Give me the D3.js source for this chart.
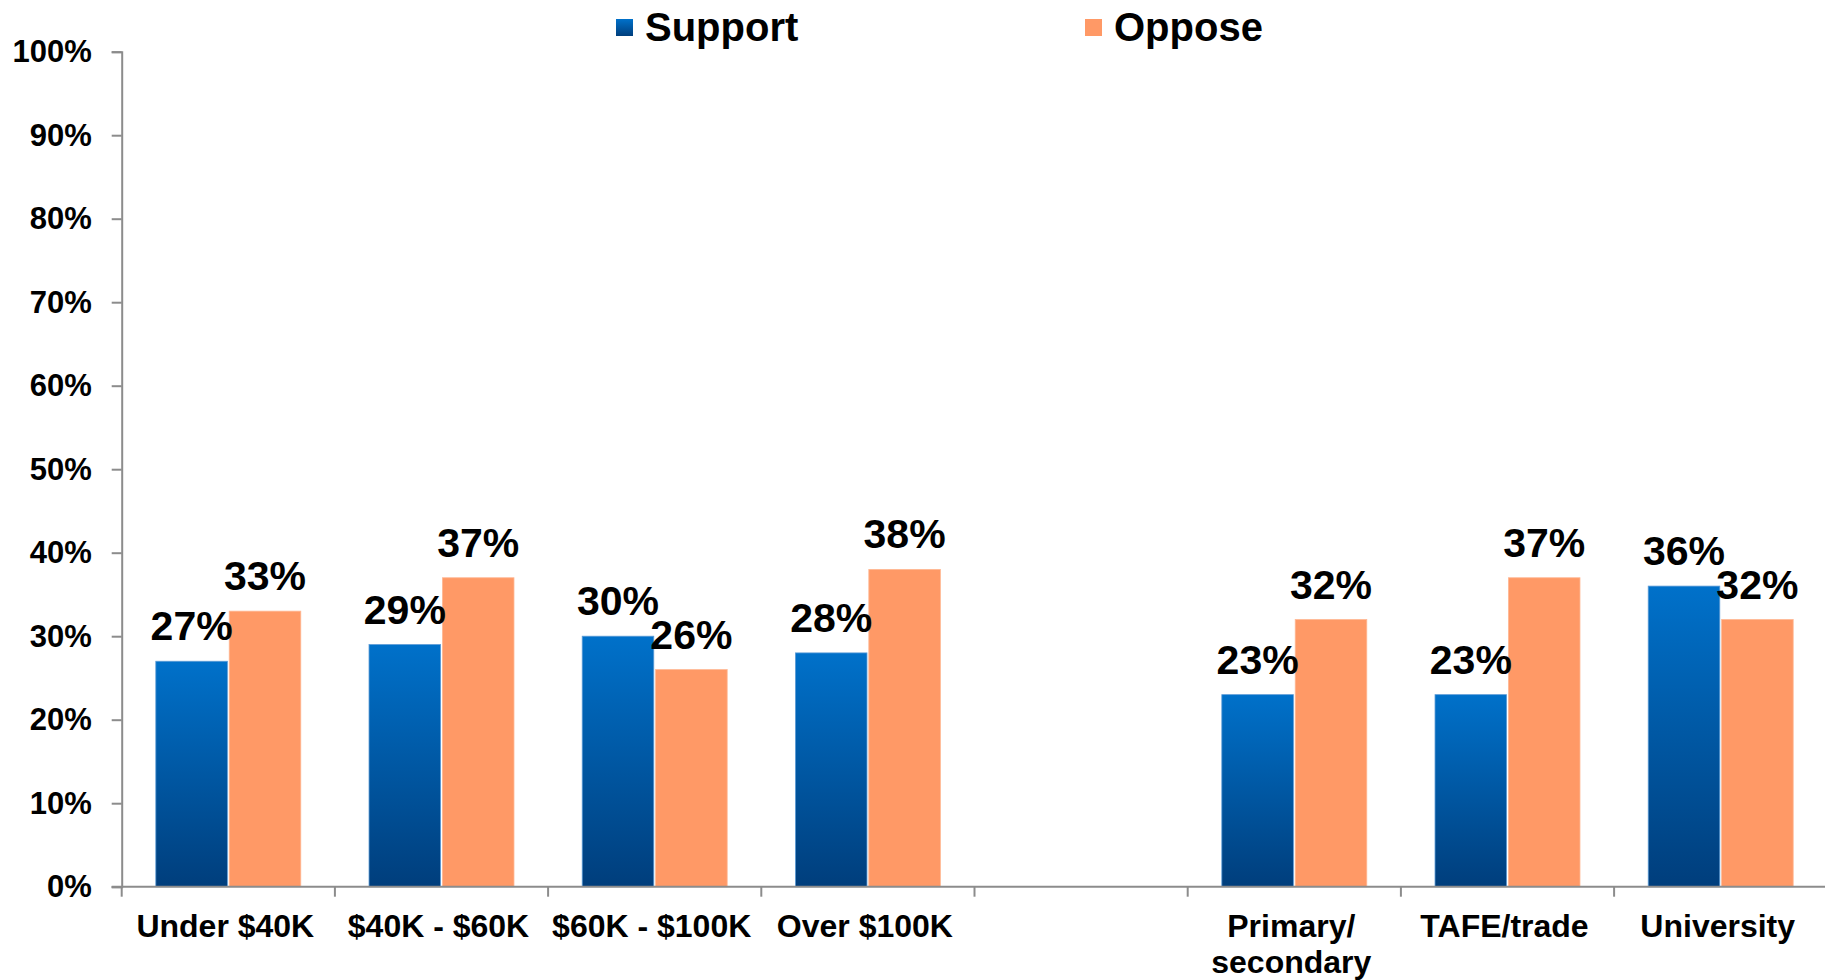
<!DOCTYPE html>
<html>
<head>
<meta charset="utf-8">
<script src="https://cdn.jsdelivr.net/npm/d3@7"></script>
<style>
  html, body { margin: 0; padding: 0; background: #ffffff; overflow: hidden; }
  svg { display: block; font-family: Arial, "Liberation Sans", Helvetica, sans-serif; font-weight: bold; }
</style>
</head>
<body>
<svg id="chart" width="1825" height="980"></svg>
<script>
// Categories along the x axis; the empty slot separates income from education groups
const categories = ["Under $40K", "$40K - $60K", "$60K - $100K", "Over $100K", "", "Primary/\nsecondary", "TAFE/trade", "University"];
const seriesNames = ["Support", "Oppose"];
const supportValues = [0.27, 0.29, 0.30, 0.28, null, 0.23, 0.23, 0.36];
const opposeValues  = [0.33, 0.37, 0.26, 0.38, null, 0.32, 0.37, 0.32];
const yTicks = [0, 0.1, 0.2, 0.3, 0.4, 0.5, 0.6, 0.7, 0.8, 0.9, 1.0];

const svg = d3.select("#chart");
const plot = { left: 121.7, right: 121.7 + 8 * 213.2, top: 51.7, bottom: 886.7 };
const axisColor = "#8c8c8c";

// Gradient for the support bars (lighter at top, darker at base)
const defs = svg.append("defs");
const grad = defs.append("linearGradient")
  .attr("id", "supportGrad").attr("x1", 0).attr("y1", 0).attr("x2", 0).attr("y2", 1);
grad.append("stop").attr("offset", "0%").attr("stop-color", "#0071CA");
grad.append("stop").attr("offset", "100%").attr("stop-color", "#003E7C");

const keys = categories.map((c, i) => "c" + i);
const x0 = d3.scaleBand().domain(keys).range([plot.left, plot.right]).paddingInner(0).paddingOuter(0);
const groupW = x0.bandwidth() * 0.68;
const x1 = d3.scaleBand().domain(seriesNames).range([0, groupW]).paddingInner(0.025);
const y = d3.scaleLinear().domain([0, 1]).range([plot.bottom, plot.top]);

const fills = { Support: "url(#supportGrad)", Oppose: "#FF9966" };

const rows = categories.map((c, i) => ({
  key: keys[i],
  label: c,
  values: [
    { series: "Support", v: supportValues[i] },
    { series: "Oppose", v: opposeValues[i] }
  ].filter(d => d.v !== null)
}));

// Y axis
const yAxis = d3.axisLeft(y)
  .tickValues(yTicks)
  .tickFormat(d3.format(".0%"))
  .tickSize(10)
  .tickPadding(20);
const gy = svg.append("g").attr("transform", `translate(${plot.left},0)`).call(yAxis);
gy.select(".domain").attr("stroke", axisColor).attr("stroke-width", 2);
gy.selectAll(".tick line").attr("stroke", axisColor).attr("stroke-width", 2);
gy.selectAll(".tick text")
  .attr("fill", "#000").style("font-size", "31px").style("font-weight", "bold")
  .style("font-family", "Arial, 'Liberation Sans', sans-serif");

// Bars
const groups = svg.append("g").selectAll("g.group")
  .data(rows).join("g")
  .attr("class", "group")
  .attr("transform", d => `translate(${x0(d.key) + (x0.bandwidth() - groupW) / 2},0)`);

groups.selectAll("rect")
  .data(d => d.values).join("rect")
  .attr("x", d => x1(d.series))
  .attr("width", x1.bandwidth())
  .attr("y", d => y(d.v))
  .attr("height", d => y(0) - y(d.v))
  .attr("fill", d => fills[d.series])
  .attr("stroke", d => d.series === "Support" ? "#5c9bd6" : "#ffb894")
  .attr("stroke-width", 0.8);

// Value labels
groups.selectAll("text.val")
  .data(d => d.values).join("text")
  .attr("class", "val")
  .attr("x", d => x1(d.series) + x1.bandwidth() / 2)
  .attr("y", d => y(d.v) - 21)
  .attr("text-anchor", "middle")
  .style("font-size", "41px")
  .attr("fill", "#000")
  .text(d => d3.format(".0%")(d.v));

// X axis line and category boundary ticks
const gx = svg.append("g");
gx.append("line")
  .attr("x1", plot.left - 10).attr("x2", plot.right)
  .attr("y1", y(0)).attr("y2", y(0))
  .attr("stroke", axisColor).attr("stroke-width", 2);
const bounds = keys.map(k => x0(k)).concat([x0.range()[1]]);
gx.selectAll("line.tick")
  .data(bounds).join("line")
  .attr("class", "tick")
  .attr("x1", d => d).attr("x2", d => d)
  .attr("y1", y(0)).attr("y2", y(0) + 10)
  .attr("stroke", axisColor).attr("stroke-width", 2);

// Category labels (multi-line where needed)
const catText = gx.selectAll("text.cat")
  .data(rows).join("text")
  .attr("class", "cat")
  .attr("y", y(0) + 50.6)
  .attr("text-anchor", "middle")
  .style("font-size", "32px")
  .attr("fill", "#000");
catText.each(function(d) {
  const lines = d.label.split("\n");
  const t = d3.select(this);
  lines.forEach((ln, i) => {
    t.append("tspan")
      .attr("x", x0(d.key) + x0.bandwidth() / 2 - 3)
      .attr("dy", i === 0 ? 0 : 36)
      .text(ln);
  });
});

// Legend
const legendPos = [{ x: 616, series: "Support" }, { x: 1085, series: "Oppose" }];
const lg = svg.append("g").selectAll("g").data(legendPos).join("g")
  .attr("transform", d => `translate(${d.x},19)`);
lg.append("rect")
  .attr("width", 17).attr("height", 17)
  .attr("fill", d => fills[d.series]);
lg.append("text")
  .attr("x", 29).attr("y", 22)
  .style("font-size", "40px")
  .attr("fill", "#000")
  .text(d => d.series);
</script>
</body>
</html>
